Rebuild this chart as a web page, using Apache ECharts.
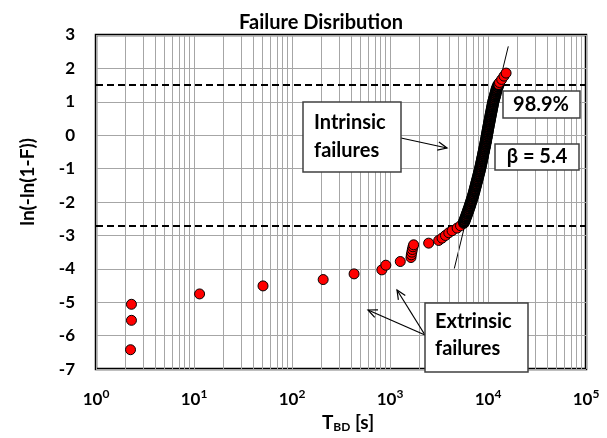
<!DOCTYPE html>
<html>
<head>
<meta charset="utf-8">
<script src="https://cdn.jsdelivr.net/npm/echarts@6/dist/echarts.min.js"></script>
<style>
html,body{margin:0;padding:0;background:#fff;}
#main{width:607px;height:438px;}
</style>
</head>
<body>
<div id="main"></div>
<script>
// ---------- data ----------
const chartTitle = 'Failure Disribution';
const yAxisTitle = 'ln(-ln(1-F))';
const xExponents = [0, 1, 2, 3, 4, 5];          // tick labels 10^n
const yMin = -7, yMax = 3;

// extrinsic (early) failures
const extrinsicT = [2.3, 2.3, 2.25, 11.4, 50.6, 208, 430, 826, 907, 1273,
  1637, 1650, 1670, 1690, 1715, 1742, 2480, 3140, 3400, 3680, 3980, 4300, 4840, 5240, 5660];
const extrinsicY = [-5.06, -5.54, -6.42, -4.75, -4.51, -4.32, -4.15, -4.03, -3.89, -3.78,
  -3.66, -3.58, -3.50, -3.42, -3.34, -3.28, -3.23, -3.15, -3.08, -3.00, -2.92, -2.86, -2.78, -2.71, -2.64];

// intrinsic failures: dense band (points overlap into a black band)
const bandT = [5690, 5776, 5863, 5949, 6035, 6121, 6208, 6294,
  6380, 6465, 6550, 6635, 6720, 6805, 6890, 6975,
  7060, 7136, 7213, 7289, 7365, 7441, 7518, 7594,
  7670, 7750, 7830, 7910, 7990, 8070, 8150, 8230,
  8310, 8383, 8455, 8528, 8600, 8673, 8745, 8818,
  8890, 8964, 9038, 9111, 9185, 9259, 9333, 9406,
  9480, 9548, 9615, 9683, 9750, 9818, 9885, 9953,
  10020, 10098, 10175, 10253, 10330, 10408, 10485, 10563,
  10640, 10725, 10810, 10895, 10980, 11065, 11150, 11235,
  11320, 11446, 11573, 11699, 11825, 11951, 12078, 12204,
  12330, 12545, 12760];
const bandY = [-2.60, -2.55, -2.50, -2.45, -2.40, -2.35, -2.30, -2.25,
  -2.20, -2.15, -2.10, -2.05, -2.00, -1.95, -1.90, -1.85,
  -1.80, -1.75, -1.70, -1.65, -1.60, -1.55, -1.50, -1.45,
  -1.40, -1.35, -1.30, -1.25, -1.20, -1.15, -1.10, -1.05,
  -1.00, -0.95, -0.90, -0.85, -0.80, -0.75, -0.70, -0.65,
  -0.60, -0.55, -0.50, -0.45, -0.40, -0.35, -0.30, -0.25,
  -0.20, -0.15, -0.10, -0.05, 0.00, 0.05, 0.10, 0.15,
  0.20, 0.25, 0.30, 0.35, 0.40, 0.45, 0.50, 0.55,
  0.60, 0.65, 0.70, 0.75, 0.80, 0.85, 0.90, 0.95,
  1.00, 1.05, 1.10, 1.15, 1.20, 1.25, 1.30, 1.35,
  1.40, 1.45, 1.50];

// last (longest-lived) intrinsic failures
const topT = [13100, 13800, 14560, 15300];
const topY = [1.58, 1.67, 1.77, 1.86];

// Weibull fit line (beta = 5.4)
const fitT = [4530, 16110];
const fitY = [-3.99, 2.66];

// dashed reference levels
const refLevels = [1.5, -2.7];

// annotation texts
const pctText = '98.9%';
const betaText = 'β = 5.4';
const intrinsicText = ['Intrinsic', 'failures'];
const extrinsicText = ['Extrinsic', 'failures'];

// ---------- build ----------
const FONT = 'Lato, "Open Sans", sans-serif';
const pts = (xs, ys) => xs.map((x, i) => [x, ys[i]]);

// minor vertical gridlines 2..9 x 10^k
const minorX = [];
for (let k = 0; k < 5; k++) for (let m = 2; m <= 9; m++) minorX.push(m * Math.pow(10, k));

const gridColor = '#a6a6a6';

function arrowGraphics(x1, y1, x2, y2) {
  const a = Math.atan2(y2 - y1, x2 - x1), L = 10, w = 0.42;
  return [
    { type: 'line', z: 100, shape: { x1, y1, x2, y2 }, style: { stroke: '#000', lineWidth: 1.2 } },
    { type: 'polyline', z: 100, shape: { points: [
        [x2 - L * Math.cos(a - w), y2 - L * Math.sin(a - w)], [x2, y2],
        [x2 - L * Math.cos(a + w), y2 - L * Math.sin(a + w)]] },
      style: { stroke: '#000', lineWidth: 1.2, fill: null } }
  ];
}
function box(x, y, w, h) {
  return { type: 'rect', z: 100, shape: { x, y, width: w, height: h },
    style: { fill: '#fff', stroke: '#404040', lineWidth: 1.5 } };
}
function txt(text, x, y, align, size, rot) {
  return { type: 'text', z: 101, x: x, y: y, rotation: rot || 0,
    style: { text, x: 0, y: 0, fill: '#000',
    font: 'bold ' + (size || 20) + 'px ' + FONT, textAlign: align, align: align,
    textVerticalAlign: 'middle', verticalAlign: 'middle' } };
}

const graphics = [].concat(
  arrowGraphics(401, 138, 447, 148),
  arrowGraphics(425, 335, 368, 310),
  arrowGraphics(425, 335, 397, 290),
  [box(303, 102, 98, 70), txt(intrinsicText[0], 314, 123, 'left'), txt(intrinsicText[1], 314, 151, 'left')],
  [box(425, 303, 103, 69), txt(extrinsicText[0], 435, 322, 'left'), txt(extrinsicText[1], 435, 349, 'left')],
  [box(503, 91, 77, 27), txt(pctText, 541, 105, 'center')],
  [box(495, 144, 84, 26), txt(betaText, 537, 157, 'center')],
  [txt(yAxisTitle, 28, 182, 'center', 19, Math.PI / 2)]
);

const chart = echarts.init(document.getElementById('main'), null, { renderer: 'canvas' });
chart.setOption({
  animation: false,
  backgroundColor: '#fff',
  title: {
    text: chartTitle, left: 316, top: 8, textAlign: 'center',
    textStyle: { fontFamily: FONT, fontSize: 20, fontWeight: 'bold', color: '#000' }
  },
  grid: { left: 96, right: 21, top: 35, bottom: 60, show: true, borderColor: '#000', borderWidth: 2.5, backgroundColor: 'transparent' },
  xAxis: {
    type: 'log', logBase: 10, min: 1, max: 100000,
    axisLine: { show: false }, axisTick: { show: false },
    splitLine: { show: true, lineStyle: { color: gridColor, width: 1 } },
    axisLabel: {
      margin: 19,
      formatter: v => '{b|10}{s|' + xExponents[Math.round(Math.log10(v))] + '}',
      rich: {
        b: { fontFamily: FONT, fontSize: 17, fontWeight: 'bold', color: '#000' },
        s: { fontFamily: FONT, fontSize: 12, fontWeight: 'bold', color: '#000', padding: [0, 0, 11, 0] }
      }
    },
    name: '{t|T}{s|BD}{t| [s]}', nameLocation: 'middle', nameGap: 40,
    nameTextStyle: {
      padding: [0, 0, 0, 14],
      rich: {
        t: { fontFamily: FONT, fontSize: 19, fontWeight: 'bold', color: '#000' },
        s: { fontFamily: FONT, fontSize: 12, fontWeight: 'bold', color: '#000', padding: [9, 0, 0, 0] }
      }
    }
  },
  yAxis: {
    type: 'value', min: yMin, max: yMax, interval: 1,
    axisLine: { show: false }, axisTick: { show: false },
    splitLine: { show: true, lineStyle: { color: gridColor, width: 1 } },
    axisLabel: { margin: 21, fontFamily: FONT, fontSize: 17, fontWeight: 'bold', color: '#000' }
  },
  series: [
    {
      type: 'scatter', z: 1, silent: true, symbolSize: 0, data: [[1, 3]],
      markLine: {
        silent: true, symbol: 'none', label: { show: false },
        lineStyle: { color: gridColor, width: 1, type: 'solid' },
        data: minorX.map(v => ({ xAxis: v }))
      }
    },
    {
      type: 'scatter', z: 2, silent: true, symbolSize: 0, data: [[1, 3]],
      markLine: {
        silent: true, symbol: 'none', label: { show: false },
        lineStyle: { color: '#000', width: 2, type: [7, 4] },
        data: refLevels.map(v => ({ yAxis: v }))
      }
    },
    {
      type: 'line', z: 3, silent: true, showSymbol: false, symbol: 'none',
      lineStyle: { color: '#000', width: 1 },
      data: pts(fitT, fitY)
    },
    {
      type: 'scatter', z: 5, silent: true, symbol: 'circle', symbolSize: 10,
      itemStyle: { color: '#ff0000', borderColor: '#000', borderWidth: 1, opacity: 1 },
      data: pts(extrinsicT, extrinsicY)
    },
    {
      type: 'scatter', z: 5, silent: true, symbol: 'circle', symbolSize: 10,
      itemStyle: { color: '#e00000', borderColor: '#000', borderWidth: 2.2, opacity: 1 },
      data: pts(bandT, bandY)
    },
    {
      type: 'scatter', z: 6, silent: true, symbol: 'circle', symbolSize: 10,
      itemStyle: { color: '#ff0000', borderColor: '#000', borderWidth: 1, opacity: 1 },
      data: pts(topT, topY)
    }
  ],
  graphic: graphics
});
</script>
</body>
</html>
